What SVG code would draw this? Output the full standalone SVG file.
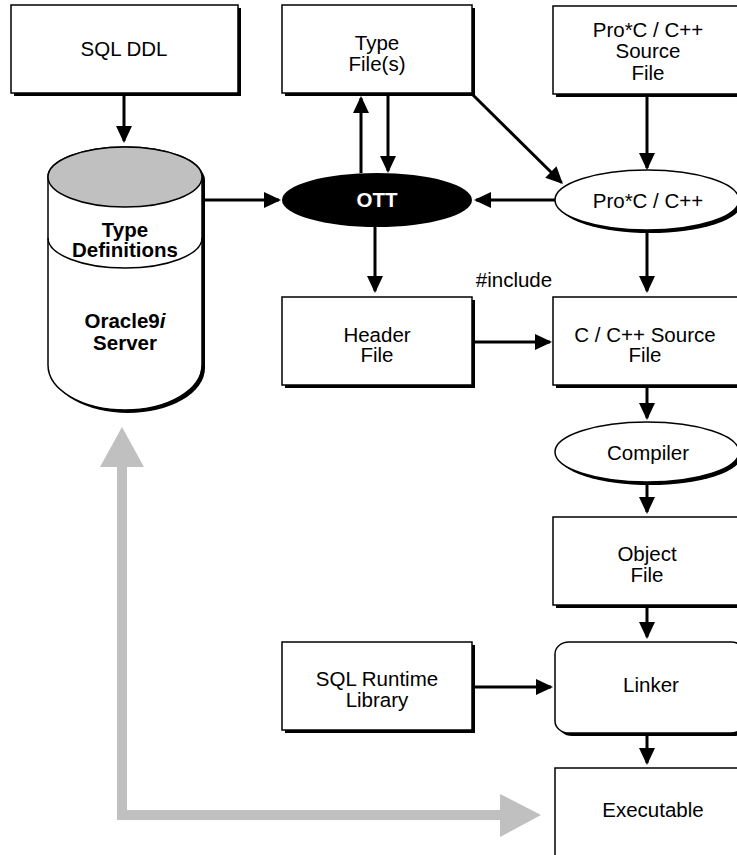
<svg xmlns="http://www.w3.org/2000/svg" width="737" height="855" viewBox="0 0 737 855">
<style>
text{font-family:"Liberation Sans",Arial,sans-serif;font-size:20.5px;fill:#000;text-anchor:middle}
.b{font-weight:bold}
.box{fill:#fff;stroke:#000;stroke-width:1.5}
.sh{fill:#000}
.conn line{stroke:#000;stroke-width:3;marker-end:url(#ah)}
</style>
<defs>
<marker id="ah" markerUnits="userSpaceOnUse" viewBox="0 0 17 16" markerWidth="17" markerHeight="16" refX="15" refY="8" orient="auto"><path d="M0,0 L17,8 L0,16 z" fill="#000"/></marker>
</defs>
<rect width="737" height="855" fill="#fff"/>

<g id="gray-return">
<path d="M122,465 V815 H502" fill="none" stroke="#c0c0c0" stroke-width="10"/>
<polygon points="122,427 100,467 144,467" fill="#c0c0c0"/>
<polygon points="541,815 500,794 500,837" fill="#c0c0c0"/>
</g>

<g id="sql-ddl">
<rect class="sh" x="14" y="8" width="227" height="88"/>
<rect class="box" x="11" y="5" width="227" height="88"/>
<text x="124" y="56">SQL DDL</text>
</g>

<g id="type-files">
<rect class="sh" x="285" y="8" width="190" height="88"/>
<rect class="box" x="282" y="5" width="190" height="88"/>
<text x="377" y="50">Type</text>
<text x="377" y="71">File(s)</text>
</g>

<g id="proc-source">
<rect class="sh" x="556" y="9" width="190" height="88"/>
<rect class="box" x="553" y="6" width="190" height="88"/>
<text x="648" y="37">Pro*C / C++</text>
<text x="648" y="58">Source</text>
<text x="648" y="80">File</text>
</g>

<g id="server">
<path d="M48,177 A77,30 0 0 1 202,177 V365 A77,45 0 0 1 48,365 Z" fill="#000" transform="translate(3,3)"/>
<path d="M48,177 A77,30 0 0 1 202,177 V365 A77,45 0 0 1 48,365 Z" fill="#fff" stroke="#000" stroke-width="1.5"/>
<ellipse cx="125" cy="177" rx="77" ry="30" fill="#c0c0c0" stroke="#000" stroke-width="1.5"/>
<path d="M48,238 A77,30 0 0 0 202,238" fill="none" stroke="#000" stroke-width="1.5"/>
<text class="b" x="125" y="237">Type</text>
<text class="b" x="125" y="257">Definitions</text>
<text class="b" x="125" y="328">Oracle9<tspan font-style="italic">i</tspan></text>
<text class="b" x="125" y="350">Server</text>
</g>

<g id="ott">
<ellipse cx="377" cy="200" rx="95" ry="27" fill="#000"/>
<text class="b" x="377" y="207" style="fill:#fff">OTT</text>
</g>

<g id="proc">
<ellipse cx="650" cy="203" rx="92" ry="30" fill="#000"/>
<ellipse cx="647" cy="200" rx="92" ry="30" fill="#fff" stroke="#000" stroke-width="1.5"/>
<text x="648" y="208">Pro*C / C++</text>
</g>

<g id="header-file">
<rect class="sh" x="285" y="300" width="190" height="88"/>
<rect class="box" x="282" y="297" width="190" height="88"/>
<text x="377" y="342">Header</text>
<text x="377" y="362">File</text>
</g>

<g id="c-source">
<rect class="sh" x="556" y="300" width="190" height="88"/>
<rect class="box" x="553" y="297" width="190" height="88"/>
<text x="645" y="342">C / C++ Source</text>
<text x="645" y="362">File</text>
</g>

<g id="compiler">
<ellipse cx="650" cy="455" rx="92" ry="30" fill="#000"/>
<ellipse cx="647" cy="452" rx="92" ry="30" fill="#fff" stroke="#000" stroke-width="1.5"/>
<text x="648" y="460">Compiler</text>
</g>

<g id="object-file">
<rect class="sh" x="556" y="520" width="190" height="88"/>
<rect class="box" x="553" y="517" width="190" height="88"/>
<text x="647" y="561">Object</text>
<text x="647" y="582">File</text>
</g>

<g id="runtime-lib">
<rect class="sh" x="285" y="645" width="190" height="88"/>
<rect class="box" x="282" y="642" width="190" height="88"/>
<text x="377" y="686">SQL Runtime</text>
<text x="377" y="707">Library</text>
</g>

<g id="linker">
<rect x="558" y="645" width="190" height="91" rx="14" ry="12" fill="#000"/>
<rect class="box" x="555" y="642" width="190" height="91" rx="14" ry="12"/>
<text x="651" y="692">Linker</text>
</g>

<g id="executable">
<rect class="box" x="555" y="768" width="190" height="100"/>
<text x="653" y="817">Executable</text>
</g>

<g id="connectors" class="conn">
<line x1="124" y1="96" x2="124" y2="141"/>
<line x1="204" y1="200" x2="279" y2="200"/>
<line x1="361" y1="173" x2="361" y2="98"/>
<line x1="388" y1="96" x2="388" y2="171"/>
<line x1="473" y1="95" x2="561.5" y2="182.5"/>
<line x1="647" y1="97" x2="647" y2="168"/>
<line x1="555" y1="200" x2="476" y2="200"/>
<line x1="375" y1="227" x2="375" y2="291"/>
<line x1="647" y1="231" x2="647" y2="291"/>
<line x1="475" y1="342" x2="550" y2="342"/>
<line x1="647" y1="388" x2="647" y2="418"/>
<line x1="647" y1="484" x2="647" y2="512"/>
<line x1="647" y1="608" x2="647" y2="637"/>
<line x1="475" y1="687" x2="551" y2="687"/>
<line x1="647" y1="736" x2="647" y2="763"/>
</g>
<text id="include-label" x="514" y="287">#include</text>
</svg>
